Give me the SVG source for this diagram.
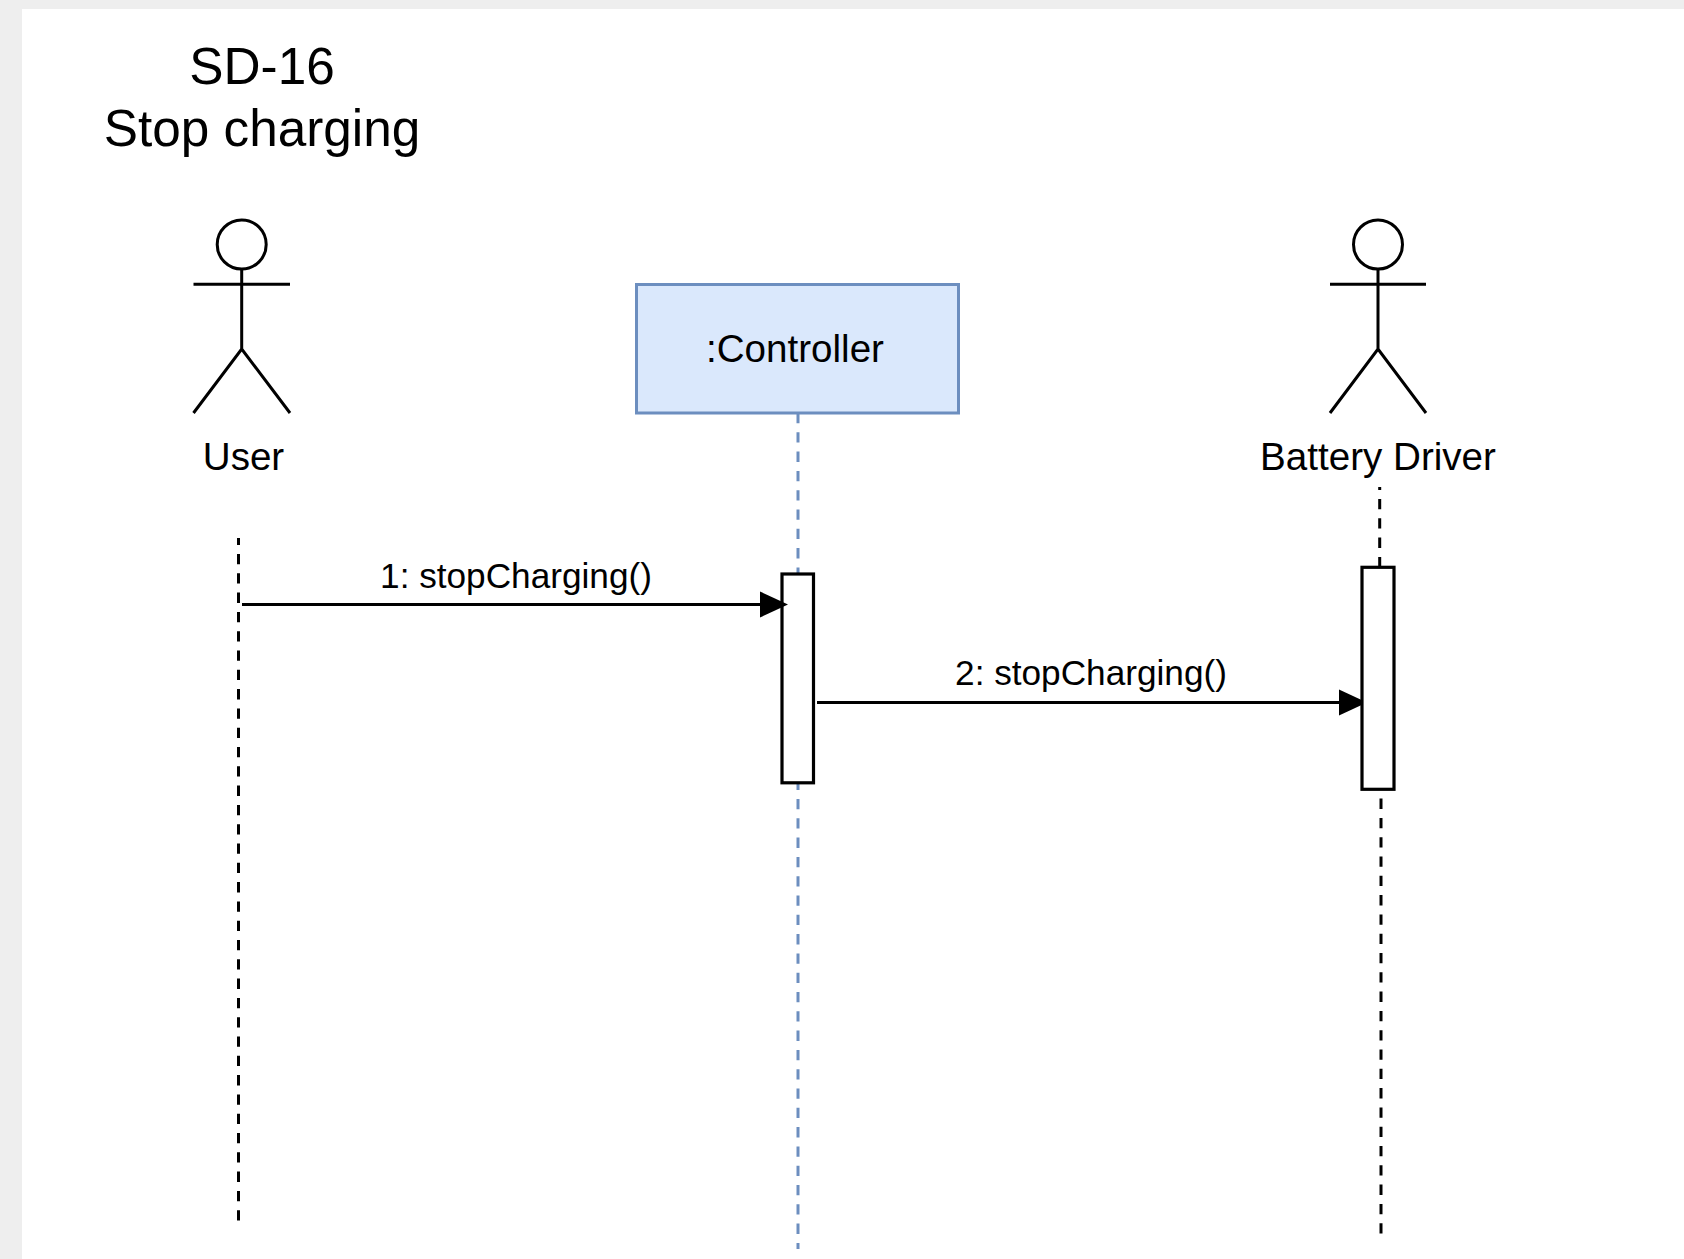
<svg xmlns="http://www.w3.org/2000/svg" width="1684" height="1259" viewBox="0 0 1684 1259">
<style>
text{font-family:"Liberation Sans",Arial,sans-serif;fill:#000;text-anchor:middle}
.t{font-size:51.300px}.l{font-size:35.200px}.n{font-size:38.600px}
.s{fill:none;stroke:#000;stroke-width:3}
.a{fill:#fff;stroke:#000;stroke-width:3.200}
.d{fill:none;stroke:#000;stroke-width:3;stroke-dasharray:10.300 9}
.b{fill:none;stroke:#6c8ebf;stroke-width:3;stroke-dasharray:10.300 9}
</style>
<defs><marker id="arrow" markerUnits="userSpaceOnUse" markerWidth="28" markerHeight="28" refX="24" refY="14" orient="auto"><path d="M0 1L28 14L0 27Z" fill="#000"/></marker></defs>
<rect width="1684" height="1259" fill="#eeeeee"/>
<rect x="22" y="9" width="1662" height="1250" fill="#ffffff"/>
<g id="title"><text class="t" x="262" y="83.500">SD-16</text><text class="t" x="262" y="146">Stop charging</text></g>
<g id="user"><circle class="s" cx="241.700" cy="244.500" r="24.500"/><path class="s" d="M241.700 269V349M193.500 284.300H290M193.500 413L241.700 349L290 413"/><text class="n" x="243.500" y="470">User</text></g>
<g id="controller"><rect x="636.500" y="284.500" width="322" height="128.500" fill="#dae8fc" stroke="#6c8ebf" stroke-width="3"/><text class="n" x="795" y="362">:Controller</text></g>
<g id="battery-driver"><circle class="s" cx="1378" cy="244.500" r="24.500"/><path class="s" d="M1378 269V349M1330 284.300H1426M1330 413L1378 349L1426 413"/><text class="n" x="1378" y="470">Battery Driver</text></g>
<g id="connectors">
<path class="d" stroke-dashoffset="3.300" d="M238.500 538V1221"/>
<path class="b" d="M798 413V573"/>
<path class="b" stroke-dashoffset="3.300" d="M798 783V1249"/>
<path class="d" stroke-dashoffset="7.300" d="M1379.700 487V567"/>
<path class="d" d="M1381 798.600V1233.500"/>
<path class="s" d="M817 702.500H1363" marker-end="url(#arrow)"/>
</g>
<g id="activation-controller"><rect class="a" x="782" y="574" width="31.500" height="208.800"/></g>
<g id="activation-battery"><rect class="a" x="1362" y="567.300" width="32" height="222"/></g>
<g id="messages">
<path class="s" d="M242 604.500H784" marker-end="url(#arrow)"/>
<text class="l" x="516" y="588">1: stopCharging()</text>
<text class="l" x="1091" y="684.500">2: stopCharging()</text>
</g>
</svg>
